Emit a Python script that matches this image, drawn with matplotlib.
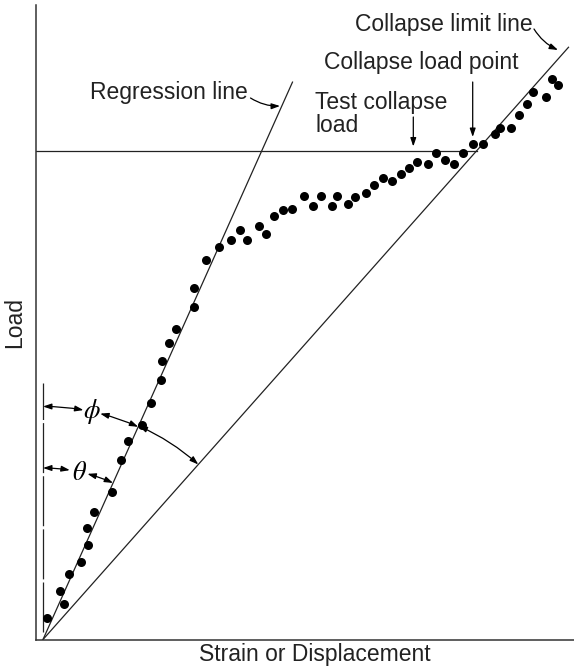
import numpy as np
import matplotlib
matplotlib.use("Agg")
import matplotlib.pyplot as plt

plt.rcParams["font.family"] = ["Liberation Sans", "DejaVu Sans"]
plt.rcParams["mathtext.fontset"] = "stix"

# measured test points (strain, load), arbitrary units
strain = [0.07, 0.41, 0.34, 0.51, 0.76, 0.89, 0.88, 1.01, 1.37, 1.55,
          1.69, 1.97, 2.15, 2.36, 2.37, 2.51, 2.66, 3.01, 3.02, 3.26,
          3.51, 3.76, 3.94, 4.08, 4.32, 4.45, 4.61, 4.79, 4.98, 5.21,
          5.39, 5.56, 5.77, 5.87, 6.10, 6.24, 6.45, 6.61, 6.80, 6.98,
          7.16, 7.32, 7.48, 7.70, 7.85, 8.03, 8.21, 8.39, 8.59, 8.80,
          9.03, 9.13, 9.35, 9.51, 9.67, 9.80, 10.06, 10.18, 10.29]
load = [0.44, 0.71, 0.98, 1.31, 1.55, 1.89, 2.24, 2.56, 2.96, 3.60,
        3.98, 4.29, 4.74, 5.19, 5.58, 5.94, 6.21, 6.66, 7.03, 7.59,
        7.86, 7.99, 8.19, 7.99, 8.28, 8.11, 8.47, 8.59, 8.61, 8.87,
        8.67, 8.87, 8.67, 8.87, 8.71, 8.86, 8.94, 9.10, 9.23, 9.18,
        9.30, 9.43, 9.55, 9.51, 9.74, 9.59, 9.51, 9.72, 9.91, 9.91,
        10.12, 10.24, 10.22, 10.49, 10.71, 10.95, 10.85, 11.22, 11.09]

reg_slope, reg_end = 2.234, 4.99          # regression line
lim_slope, lim_end = 1.127, 10.51         # collapse limit line
test_load = 9.78                          # test collapse load
x_min, x_max = -0.14, 10.62
y_min, y_max = -0.01, 12.69

fig = plt.figure(figsize=(5.74, 6.70), dpi=100)
ax = fig.add_axes([36 / 574, 30 / 670, 538 / 574, 635 / 670])
ax.set_xlim(x_min, x_max)
ax.set_ylim(y_min, y_max)
ax.set_aspect("equal", adjustable="box")
for side in ("top", "right"):
    ax.spines[side].set_visible(False)
for side in ("left", "bottom"):
    ax.spines[side].set_linewidth(1.1)
    ax.spines[side].set_color("#333333")
ax.set_xticks([])
ax.set_yticks([])

lc = "#222222"
xr = np.array([0, reg_end])
ax.plot(xr, reg_slope * xr, color=lc, lw=0.9)
xl = np.array([0, lim_end])
ax.plot(xl, lim_slope * xl, color=lc, lw=0.9)
ax.plot([x_min, test_load / lim_slope], [test_load, test_load], color=lc, lw=0.9)
ax.plot([0, 0], [0.15, 5.13], color=lc, lw=0.9, linestyle=(0, (40, 2.5)))

ax.plot(strain, load, "o", color="black", ms=6.5, mec="none")

# angle arcs around the origin, angles measured from vertical
reg_ang = np.degrees(np.arctan(1 / reg_slope))
lim_ang = np.degrees(np.arctan(1 / lim_slope))


def arc_arrow(r, a1, a2):
    p1 = (r * np.sin(np.radians(a1)), r * np.cos(np.radians(a1)))
    p2 = (r * np.sin(np.radians(a2)), r * np.cos(np.radians(a2)))
    rad = -np.tan(np.radians(a2 - a1) / 2) / 2
    ax.annotate("", xy=p2, xytext=p1,
                arrowprops=dict(arrowstyle="<|-|>,head_length=0.5,head_width=0.17",
                                color="black", lw=0.9, shrinkA=0, shrinkB=0,
                                connectionstyle=f"arc3,rad={rad:.4f}"))


arc_arrow(4.66, 0, 10.0)
arc_arrow(4.66, 14.2, reg_ang)
arc_arrow(4.68, reg_ang, lim_ang)
arc_arrow(3.43, 0, 9.0)
arc_arrow(3.43, 15.0, reg_ang)

ax.text(0.98, 4.56, r"$\phi$", fontsize=19, ha="center", va="center")
ax.text(0.73, 3.33, r"$\theta$", fontsize=19, ha="center", va="center")

fs = 16.5
tc = "#222222"
arr = dict(arrowstyle="-|>,head_length=0.5,head_width=0.17", color="black", lw=0.9,
           shrinkA=0, shrinkB=0)

ax.text(4.1, 10.93, "Regression line", fontsize=fs, color=tc, ha="right", va="center")
ax.annotate("", xy=(4.74, 10.67), xytext=(4.15, 10.83),
            arrowprops=dict(arr, connectionstyle="arc3,rad=0.15"))

ax.text(9.8, 12.29, "Collapse limit line", fontsize=fs, color=tc, ha="right", va="center")
ax.annotate("", xy=(10.3, 11.79), xytext=(9.82, 12.21),
            arrowprops=dict(arr, connectionstyle="arc3,rad=0.15"))

ax.text(7.57, 11.53, "Collapse load point", fontsize=fs, color=tc, ha="center", va="center")
ax.annotate("", xy=(8.594, 10.05), xytext=(8.594, 11.15), arrowprops=arr)

ax.text(5.44, 10.51, "Test collapse\nload", fontsize=fs, color=tc, ha="left", va="center",
        linespacing=1.02)
ax.annotate("", xy=(7.406, 9.86), xytext=(7.406, 10.45), arrowprops=arr)

fig.text(315 / 574, 1 - 655 / 670, "Strain or Displacement", fontsize=fs, color=tc,
         ha="center", va="center")
fig.text(15 / 574, 1 - 322 / 670, "Load", fontsize=fs, color=tc, rotation=90,
         ha="center", va="center")

fig.savefig("out.png", dpi=100)
